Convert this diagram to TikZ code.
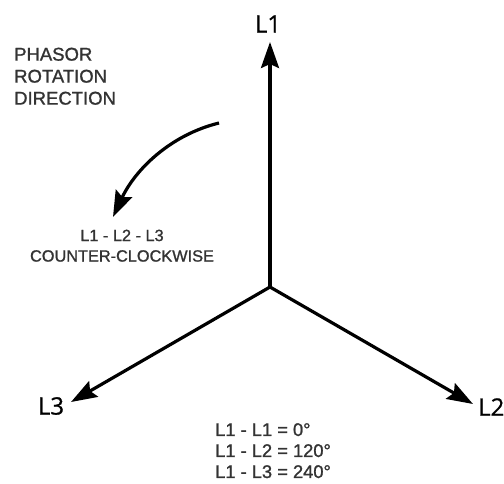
\documentclass[tikz,border=0pt]{standalone}
\usepackage{fontspec}
\setmainfont{Liberation Sans}
\newfontfamily\notefont{Liberation Sans}[FakeBold=1.2]
\newfontfamily\lblfont{Open Sans}[FakeBold=0.8]
\usetikzlibrary{arrows.meta}
\begin{document}
\begin{tikzpicture}[x=1pt,y=-1pt,
  phasor/.style={line width=3.2pt,-{Stealth[length=26pt,width=18pt,inset=4pt]}},
  phlabel/.style={inner sep=0pt,font=\lblfont\fontsize{24}{28}\selectfont},
  note/.style={inner sep=0pt,text=black!80}]
\useasboundingbox (0,0) rectangle (504,483);
\fill[white] (0,0) rectangle (504,483);
\coordinate (O) at (270,287);
\coordinate (T1) at (270,42);
\coordinate (T2) at (473,404);
\coordinate (T3) at (71,402);
\draw[phasor] (O) -- (T1);
\draw[phasor] (O) -- (T2);
\draw[phasor] (O) -- (T3);
\node[phlabel] (L1) at (268,24) {L1};
\node[phlabel,anchor=west] (L2) at (478,407) {L2};
\node[phlabel] (L3) at (51,406) {L3};
\node[note,anchor=north west,align=left,font=\notefont\fontsize{18.5}{22}\selectfont] (rot) at (14,47.5) {PHASOR\\ROTATION\\DIRECTION};
\coordinate (cs) at (219,123);
\coordinate (ce) at (113,217);
\draw[line width=3.2pt,-{Stealth[length=26pt,width=18pt,inset=4pt]}] (cs) .. controls (170,135) and (135,170) .. (ce);
\node[note,anchor=north,align=center,font=\notefont\fontsize{16.3}{20.5}\selectfont] (ccw) at (122,229.5) {L1 - L2 - L3\\COUNTER-CLOCKWISE};
\node[note,anchor=north west,align=left,font=\notefont\fontsize{18.3}{21}\selectfont] (ang) at (215,423) {L1 - L1 = 0°\\L1 - L2 = 120°\\L1 - L3 = 240°};
\end{tikzpicture}
\end{document}
